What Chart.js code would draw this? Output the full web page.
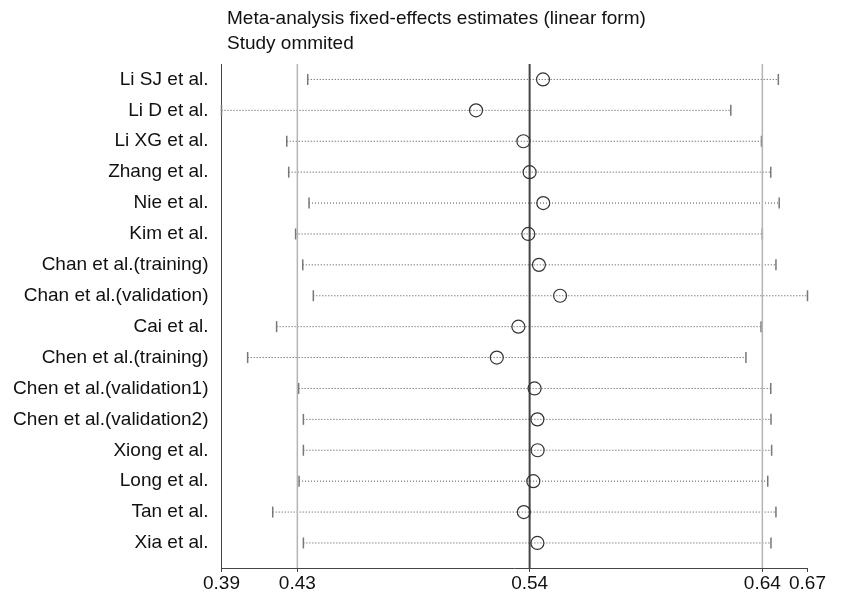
<!DOCTYPE html>
<html>
<head>
<meta charset="utf-8">
<script src="https://cdn.jsdelivr.net/npm/chart.js@4/dist/chart.umd.min.js"></script>
<style>
  html, body { margin: 0; padding: 0; background: #fff; }
  canvas { display: block; }
</style>
</head>
<body>
<canvas id="chart-influence" width="846" height="596"></canvas>
<script>
const studies = ['Li SJ et al.', 'Li D et al.', 'Li XG et al.', 'Zhang et al.', 'Nie et al.', 'Kim et al.',
    'Chan et al.(training)', 'Chan et al.(validation)', 'Cai et al.', 'Chen et al.(training)',
    'Chen et al.(validation1)', 'Chen et al.(validation2)', 'Xiong et al.', 'Long et al.', 'Tan et al.', 'Xia et al.'];
const estimates = [0.5432, 0.5122, 0.5341, 0.5370, 0.5433, 0.5364, 0.5413, 0.5511,
    0.5318, 0.5218, 0.5393, 0.5406, 0.5407, 0.5387, 0.5343, 0.5406];
const lowerCI = [0.4343, 0.3944, 0.4246, 0.4255, 0.4349, 0.4287, 0.4320, 0.4369,
    0.4199, 0.4065, 0.4301, 0.4323, 0.4323, 0.4303, 0.4181, 0.4323];
const upperCI = [0.6521, 0.6301, 0.6443, 0.6486, 0.6525, 0.6447, 0.6510, 0.6656,
    0.6441, 0.6371, 0.6486, 0.6487, 0.6490, 0.6472, 0.6510, 0.6487];
// overall fixed-effects estimate: lower CI, estimate, upper CI
const overall = [0.4295, 0.5370, 0.6447];
const tickValues = [0.3944, 0.4295, 0.5370, 0.6447, 0.6656];
const tickLabels = ['0.39', '0.43', '0.54', '0.64', '0.67'];
const titleLines = ['Meta-analysis fixed-effects estimates (linear form)', 'Study ommited'];

const xMin = 0.3944, xMax = 0.6656;
const yMin = 0.5, yMax = 16.81;

Chart.defaults.font.family = "'Liberation Sans', Arial, Helvetica, sans-serif";
Chart.defaults.font.size = 19;
Chart.defaults.color = '#111';

const datasets = [];

// overall estimate and its CI, vertical lines
overall.forEach(function (v, i) {
    datasets.push({
        type: 'line',
        data: [{x: v, y: yMin}, {x: v, y: yMax}],
        borderColor: i == 1 ? '#444' : '#b4b4b4',
        borderWidth: i == 1 ? 2 : 1.5,
        pointRadius: 0,
        clip: false
    });
});

// one dotted line per omitted study, with end caps
studies.forEach(function (s, i) {
    datasets.push({
        type: 'line',
        data: [{x: lowerCI[i], y: i + 1}, {x: upperCI[i], y: i + 1}],
        borderColor: '#4a4a4a',
        borderWidth: 1,
        borderDash: [1, 2],
        pointStyle: 'line',
        pointRotation: 90,
        pointRadius: 5.5,
        pointBorderColor: '#777',
        pointBorderWidth: 1.5,
        clip: false
    });
});

datasets.unshift({
    type: 'scatter',
    data: estimates.map(function (v, i) { return {x: v, y: i + 1}; }),
    pointStyle: 'circle',
    pointRadius: 6.5,
    pointBorderWidth: 1.2,
    pointBorderColor: '#333',
    pointBackgroundColor: 'rgba(0,0,0,0)',
    clip: false
});

const titlePlugin = {
    id: 'stataTitle',
    afterDraw: function (chart) {
        const ctx = chart.ctx;
        ctx.save();
        ctx.fillStyle = '#111';
        ctx.font = "19px 'Liberation Sans', Arial, sans-serif";
        ctx.textAlign = 'left';
        ctx.textBaseline = 'alphabetic';
        ctx.fillText(titleLines[0], 227, 24);
        ctx.fillText(titleLines[1], 227, 49);
        ctx.restore();
    }
};

new Chart(document.getElementById('chart-influence'), {
    type: 'scatter',
    data: {datasets: datasets},
    plugins: [titlePlugin],
    options: {
        responsive: false,
        animation: false,
        events: [],
        layout: {
            padding: {top: 64, right: 38.5, bottom: 0, left: 0}
        },
        plugins: {
            legend: {display: false},
            tooltip: {enabled: false},
            title: {display: false}
        },
        scales: {
            x: {
                type: 'linear',
                min: xMin,
                max: xMax,
                afterBuildTicks: function (scale) {
                    scale.ticks = tickValues.map(function (v) { return {value: v}; });
                },
                afterFit: function (scale) {
                    scale.height = 28;
                },
                ticks: {
                    autoSkip: false,
                    maxRotation: 0,
                    padding: 0,
                    callback: function (value, index) {
                        return tickLabels[index];
                    }
                },
                grid: {
                    display: true,
                    drawOnChartArea: false,
                    drawTicks: true,
                    tickLength: 4,
                    color: '#444'
                },
                border: {display: true, color: '#444', width: 1}
            },
            y: {
                type: 'linear',
                reverse: true,
                min: yMin,
                max: yMax,
                afterBuildTicks: function (scale) {
                    scale.ticks = studies.map(function (s, i) { return {value: i + 1}; });
                },
                afterFit: function (scale) {
                    scale.width = 221.5;
                },
                ticks: {
                    autoSkip: false,
                    padding: 13,
                    callback: function (value) {
                        return studies[Math.round(value) - 1];
                    }
                },
                grid: {display: false, drawTicks: false},
                border: {display: true, color: '#444', width: 1}
            }
        }
    }
});
</script>
</body>
</html>
